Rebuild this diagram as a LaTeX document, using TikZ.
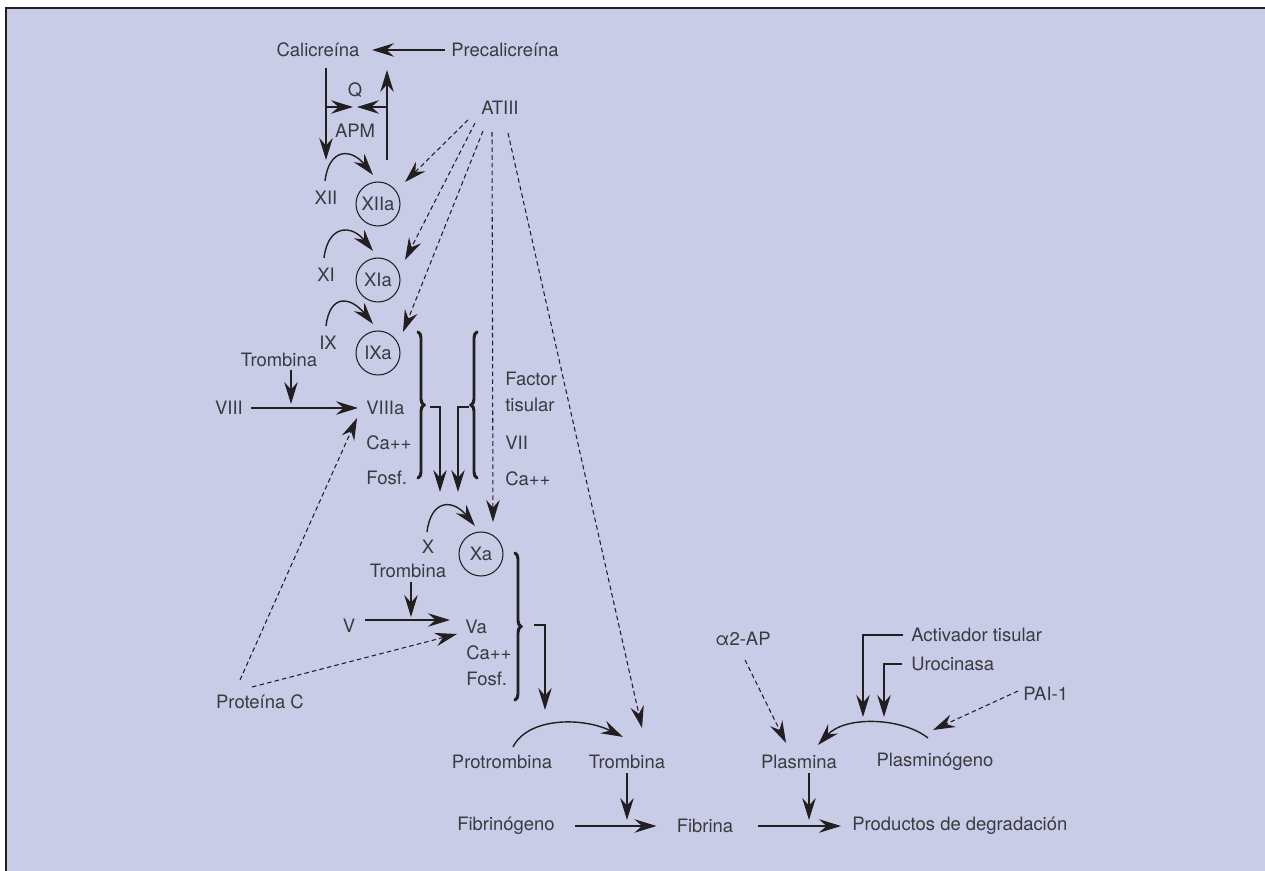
\documentclass[tikz,border=0pt]{standalone}
\usepackage{fontspec}
\setmainfont{TeX Gyre Heros}
\usetikzlibrary{arrows.meta,calc,decorations.pathreplacing}
\definecolor{panel}{RGB}{200,204,230}
\definecolor{ink}{RGB}{35,31,32}
\definecolor{txt}{RGB}{58,58,64}

\begin{document}
\begin{tikzpicture}[
  x=0.02cm, y=-0.02cm,
  lbl/.style={inner sep=0pt, text=txt, font=\fontsize{10.5}{13}\selectfont},
  fac/.style={lbl, draw=ink, circle, line width=0.6pt, minimum size=0.88cm},
  arr/.style={draw=ink, line width=0.8pt, -{Stealth[length=4.4mm,width=2.7mm,inset=1.5mm]}},
  inh/.style={arr, line width=0.6pt, dash pattern=on 2.6pt off 1.8pt},
  brc/.style={draw=ink, line width=1.7pt, line cap=round, decorate, decoration={brace,amplitude=1.2mm}}
]
  \useasboundingbox (0,0) rectangle (1265,871);
  \fill[panel] (6,8) rectangle (1265,871);
  \draw[ink, line width=0.8pt] (6,871) -- (6,8) -- (1265,8);

  % Contact phase
  \node[lbl] (cal) at (318,50) {Calicreína};
  \node[lbl] (precal) at (505,50) {Precalicreína};
  \node[lbl] (q) at (355,90) {Q};
  \node[lbl] (apm) at (355,131) {APM};
  \node[lbl] (at) at (500,108) {ATIII};
  \draw[arr] ($(precal)+(-60,0)$) -- ($(cal)+(54,0)$);
  \draw[arr] ($(cal)+(8,18)$) -- ($(cal)+(8,110)$);
  \draw[arr] ($(cal)+(69,110)$) -- ($(cal)+(69,20)$);
  \draw[arr] ($(q)+(-29,17)$) -- ($(q)+(-2,17)$);
  \draw[arr] ($(q)+(32,17)$) -- ($(q)+(2,17)$);

  % Intrinsic cascade
  \node[lbl] (xii) at (326,198) {XII};
  \node[fac] (xiia) at (378,204) {XIIa};
  \node[lbl] (xi) at (326,275) {XI};
  \node[fac] (xia) at (378,280) {XIa};
  \node[lbl] (ix) at (328,343) {IX};
  \node[fac] (ixa) at (378,353) {IXa};
  \draw[arr] ($(xii)+(-1,-17)$) .. controls +(4,-33) and +(-22,-27) .. ($(xiia)+(-5,-29)$);
  \draw[arr] ($(xi)+(-2,-17)$) .. controls +(4,-33) and +(-22,-27) .. ($(xia)+(-5,-29)$);
  \draw[arr] ($(ix)+(-2,-17)$) .. controls +(4,-33) and +(-22,-27) .. ($(ixa)+(-5,-29)$);

  \node[lbl] (trom1) at (279,360) {Trombina};
  \node[lbl] (viii) at (229,408) {VIII};
  \node[lbl, anchor=west] (viiia) at (366,408) {VIIIa};
  \node[lbl, anchor=west] (ca1) at (366,443) {Ca++};
  \node[lbl, anchor=west] (fosf1) at (366,478) {Fosf.};
  \draw[arr] ($(trom1)+(12,10)$) -- ($(trom1)+(12,44)$);
  \draw[arr, shorten <=1.6mm, shorten >=1.6mm] (viii) -- (viiia);

  % Extrinsic
  \node[lbl, anchor=west, align=left, font=\fontsize{10.5}{14.8}\selectfont] (ft) at (505,392) {Factor\\tisular};
  \node[lbl, anchor=west] (vii) at (505,443) {VII};
  \node[lbl, anchor=west] (ca2) at (505,479) {Ca++};

  \draw[brc] (418,332) -- (418,478);
  \draw[brc] (477,478) -- (477,332);
  \coordinate (b1) at (423,407);
  \coordinate (b2) at (472,407);
  \draw[arr] ($(b1)+(7,0)$) -| ($(b1)+(17,85)$);
  \draw[arr] ($(b2)+(-3,0)$) -| ($(b2)+(-14,85)$);

  % Common pathway
  \node[lbl] (x) at (428,547) {X};
  \node[fac] (xa) at (481,554) {Xa};
  \draw[arr] ($(x)+(-1,-15)$) .. controls +(4,-33) and +(-22,-27) .. ($(xa)+(-6,-28)$);
  \node[lbl] (trom2) at (408,571) {Trombina};
  \node[lbl] (v) at (349,626) {V};
  \node[lbl, anchor=west] (va) at (465,627) {Va};
  \node[lbl, anchor=west] (ca3) at (466,653) {Ca++};
  \node[lbl, anchor=west] (fosf2) at (466,679) {Fosf.};
  \draw[arr] ($(trom2)+(3,11)$) -- ($(trom2)+(3,46)$);
  \draw[arr] ($(v)+(16,-6)$) -- ($(va.west)+(-15,-7)$);
  \draw[brc] (515,553) -- (515,700);
  \coordinate (b3) at (520,626);
  \draw[arr] ($(b3)+(14,-1)$) -| ($(b3)+(25,84)$);

  \node[lbl] (protc) at (260,702) {Proteína C};
  \draw[inh] ($(protc)+(-20,-22)$) -- ($(viiia.west)+(-9,10)$);
  \draw[inh] ($(protc)+(-8,-15)$) -- ($(va.west)+(-8,7)$);

  \node[lbl] (protr) at (502,762) {Protrombina};
  \node[lbl] (trom3) at (627,762) {Trombina};
  \node[lbl] (fibg) at (506,826) {Fibrinógeno};
  \node[lbl] (fib) at (705,826) {Fibrina};
  \node[lbl, anchor=west] (prod) at (852,826) {Productos de degradación};
  \draw[arr] ($(protr)+(11,-15)$) .. controls +(15,-30) and +(-40,-20) .. ($(trom3)+(-4,-25)$);
  \draw[arr] ($(trom3)+(0,11)$) -- ($(trom3)+(0,58)$);
  \draw[arr, shorten <=4mm, shorten >=4mm] (fibg) -- (fib);
  \draw[arr, shorten <=4.8mm, shorten >=2.2mm] (fib) -- (prod);

  % ATIII inhibition
  \draw[inh] ($(at)+(-32,12)$) -- ($(xiia)+(27,-22)$);
  \draw[inh] ($(at)+(-25,15)$) -- ($(xia)+(27,-20)$);
  \draw[inh] ($(at)+(-17,23)$) -- ($(ixa)+(25,-21)$);
  \draw[inh] ($(at)+(-8,24)$) -- ($(xa)+(12,-32)$);
  \draw[inh] ($(at)+(8,25)$) -- ($(trom3)+(15,-34)$);

  % Fibrinolysis
  \node[lbl] (a2ap) at (743,639) {α2-AP};
  \node[lbl, anchor=west] (act) at (911,635) {Activador tisular};
  \node[lbl, anchor=west] (uro) at (911,664) {Urocinasa};
  \node[lbl, anchor=west] (pai) at (1023,694) {PAI-1};
  \node[lbl] (plas) at (799,762) {Plasmina};
  \node[lbl] (plasg) at (935,762) {Plasminógeno};
  \draw[arr] ($(plasg)+(-7,-24)$) .. controls +(-25,-20) and +(28,-30) .. ($(plas)+(19,-17)$);
  \draw[arr] ($(act.west)+(-8,0)$) -| ($(plas)+(64,-45)$);
  \draw[arr] ($(uro.west)+(-9,0)$) -| ($(plas)+(85,-45)$);
  \draw[inh] ($(a2ap)+(2,21)$) -- ($(plas)+(-13,-19)$);
  \draw[inh] ($(pai.west)+(-5,-3)$) -- ($(plasg)+(-2,-32)$);
  \draw[arr] ($(plas)+(10,11)$) -- ($(plas)+(10,58)$);
\end{tikzpicture}
\end{document}
